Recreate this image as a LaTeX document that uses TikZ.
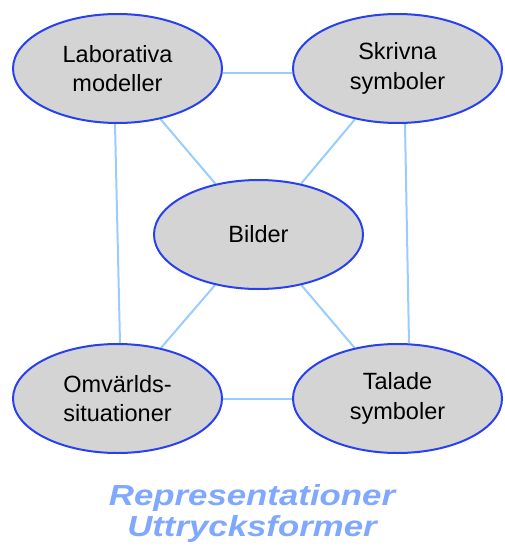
\documentclass[tikz,border=0pt]{standalone}
\usepackage{fontspec}
\setmainfont{Liberation Sans}
\usetikzlibrary{shapes.geometric}
\definecolor{ellfill}{RGB}{212,212,212}
\definecolor{ellborder}{RGB}{40,64,240}
\definecolor{linkblue}{RGB}{153,204,255}
\definecolor{captionblue}{RGB}{128,168,255}
\pgfdeclarelayer{bg}
\pgfsetlayers{bg,main}
\begin{document}
\begin{tikzpicture}[x=1pt,y=-1pt,
  ell/.style={ellipse,draw=ellborder,line width=2pt,fill=ellfill,
    minimum width=209pt,minimum height=109pt,inner sep=0pt,align=center,
    font=\fontsize{23.5}{29.5}\selectfont},
  link/.style={draw=linkblue,line width=2pt},
  captiontext/.style={text=captionblue,anchor=base,inner sep=0pt,
    font=\fontsize{29}{31}\selectfont\bfseries\itshape}]
\useasboundingbox (0,0) rectangle (504,546);
\node[ell] (TL) at (117.5,68.5) {Laborativa\\modeller};
\node[ell] (TR) at (397.5,68.5) {Skrivna\\symboler};
\node[ell] (B) at (258.5,234.5) {Bilder};
\node[ell] (BL) at (117.5,398.5) {Omvärlds-\\situationer};
\node[ell] (BR) at (397.5,398.5) {Talade\\symboler};
\node[captiontext] (cap1) at (252,505) {\scalebox{1.2}[1]{Representationer}};
\node[captiontext] (cap2) at (252,536) {\scalebox{1.2}[1]{Uttrycksformer}};
\begin{pgfonlayer}{bg}
\draw[link] ([yshift=-4.5pt]TL.east) -- ([yshift=-4.5pt]TR.west);
\draw[link] (BL) -- (BR);
\draw[link] ([xshift=-2.5pt]TL.south) -- ([xshift=2.5pt]BL.north);
\draw[link] ([xshift=7.5pt]TR.south) -- ([xshift=11.5pt]BR.north);
\draw[link] (TL) -- (B);
\draw[link] (TR) -- (B);
\draw[link] (B) -- (BL);
\draw[link] (B) -- (BR);
\end{pgfonlayer}
\end{tikzpicture}
\end{document}
